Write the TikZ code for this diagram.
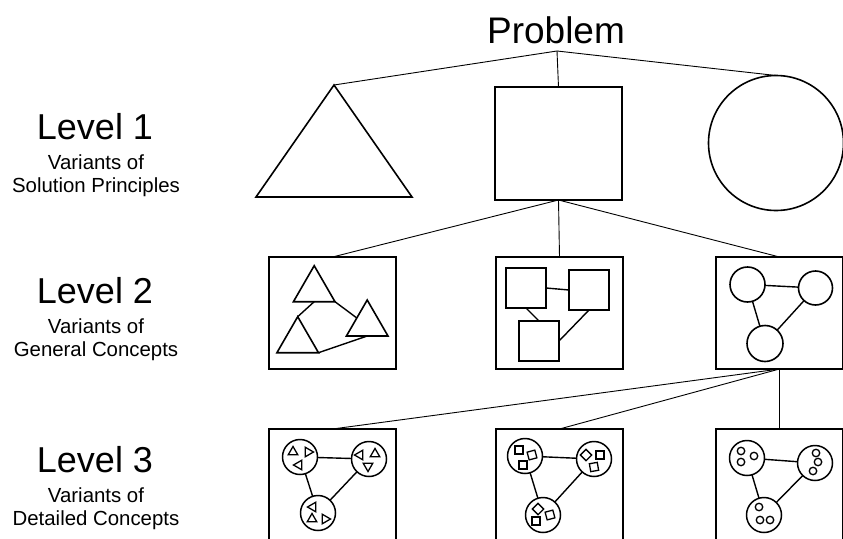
\documentclass[tikz,border=0pt]{standalone}
\usepackage{fontspec}
\setmainfont{Liberation Sans}
\usetikzlibrary{shapes.geometric,calc}
\begin{document}
\begin{tikzpicture}[x=1pt,y=-1pt,
  treeline/.style={line width=0.9pt},
  bigshape/.style={draw,line width=1.6pt,inner sep=0pt,outer sep=0pt},
  framebox/.style={draw,line width=1.8pt,rectangle,minimum width=127pt,minimum height=112pt,inner sep=0pt,outer sep=0pt},
  tri/.style={draw,line width=1.6pt,regular polygon,regular polygon sides=3,minimum size=48pt,inner sep=0pt,outer sep=0pt},
  sqr/.style={draw,line width=1.6pt,rectangle,minimum size=40pt,inner sep=0pt,outer sep=0pt},
  rnd/.style={draw,line width=1.6pt,circle,inner sep=0pt,outer sep=0pt},
  link/.style={line width=1.4pt},
  grp/.style={draw,line width=1.5pt,circle,minimum size=35pt,inner sep=0pt,outer sep=0pt},
  mtri/.style={draw,line width=1.3pt,regular polygon,regular polygon sides=3,minimum size=11pt,inner sep=0pt},
  msq/.style={draw,line width=1.3pt,rectangle,minimum size=8pt,inner sep=0pt},
  mdot/.style={draw,line width=1.3pt,circle,minimum size=7.5pt,inner sep=0pt},
  big/.style={font=\fontsize{36}{40}\selectfont,inner sep=0pt,anchor=base},
  small/.style={font=\fontsize{20.4}{24}\selectfont,inner sep=0pt,anchor=base},
]
\useasboundingbox (0,0) rectangle (843,538);
\clip (0,0) rectangle (843,538);

% level captions
\node[big] (lv1) at (95,139) {Level 1};
\node[small] (lv1a) at (96,169) {Variants of};
\node[small] (lv1b) at (96,192) {Solution Principles};
\node[big] (lv2) at (95,303) {Level 2};
\node[small] (lv2a) at (96,333) {Variants of};
\node[small] (lv2b) at (96,356) {General Concepts};
\node[big] (lv3) at (95,472) {Level 3};
\node[small] (lv3a) at (96,502) {Variants of};
\node[small] (lv3b) at (96,525) {Detailed Concepts};

% root
\node[big,font=\fontsize{37}{40}\selectfont] (prob) at (556,43) {Problem};
\coordinate (pj) at (557,51);

% level 1: solution principles
\coordinate (t1apex) at (334,85);
\coordinate (t1l) at (256,197);
\coordinate (t1r) at (412,197);
\draw[line width=1.6pt] (t1apex) -- (t1l) -- (t1r) -- cycle;
\node[bigshape,minimum width=127pt,minimum height=113pt] (sq1) at (558.5,143.5) {};
\node[bigshape,circle,minimum size=135pt] (circ1) at (776,143) {};

\draw[treeline] (pj) -- (t1apex);
\draw[treeline] (pj) -- (sq1.north);
\draw[treeline] (pj) -- (circ1.north);

% level 2: general concepts
\node[framebox] (b2a) at (332.5,313) {};
\node[framebox] (b2b) at (559.5,313) {};
\node[framebox] (b2c) at (779.5,313) {};
\draw[treeline] (sq1.south) -- (b2a.north);
\draw[treeline] (sq1.south) -- (b2b.north);
\draw[treeline] (sq1.south) -- (b2c.north);

% triangles
\node[tri] (ta) at (314.2,289.7) {};
\node[tri] (tb) at (367.2,324) {};
\node[tri] (tc) at (297.7,340.7) {};
\draw[link] (ta.side 2) -- (tc.corner 1);
\draw[link] (ta.corner 3) -- (tb.side 1);
\draw[link] (tc.corner 3) -- (tb.side 2);

% squares
\node[sqr] (sa) at (526,288) {};
\node[sqr] (sb) at (589,290) {};
\node[sqr] (sc) at (539,341) {};
\draw[link] (sa.east) -- (sb.west);
\draw[link] (sa.south) -- (sc.north);
\draw[link] (sb.south) -- (sc.east);

% circles
\node[rnd,minimum size=35pt] (ca) at (747.5,284.5) {};
\node[rnd,minimum size=34pt] (cb) at (815.5,288) {};
\node[rnd,minimum size=36pt] (cc) at (765,343.5) {};
\draw[link] (ca) -- (cb);
\draw[link] (ca) -- (cc);
\draw[link] (cb) -- (cc);

% level 3: detailed concepts
\node[framebox] (b3a) at (332.5,485) {};
\node[framebox] (b3b) at (559.5,485) {};
\node[framebox] (b3c) at (779.5,485) {};
\draw[treeline] (b2c.south) -- (b3a.north);
\draw[treeline] (b2c.south) -- (b3b.north);
\draw[treeline] (b2c.south) -- (b3c.north);

% groups of small triangles
\node[grp] (ga) at (300,457) {};
\node[grp] (gb) at (369,459) {};
\node[grp] (gc) at (318,513) {};
\draw[link] (ga) -- (gb);
\draw[link] (ga) -- (gc);
\draw[link] (gb) -- (gc);
\node[mtri] (ga1) at ($(ga)+(-7,-5)$) {};
\node[mtri,rotate=-90] (ga2) at ($(ga)+(8,-5)$) {};
\node[mtri,rotate=90] (ga3) at ($(ga)+(-1,8)$) {};
\node[mtri,rotate=90] (gb1) at ($(gb)+(-9,-4)$) {};
\node[mtri] (gb2) at ($(gb)+(6,-5)$) {};
\node[mtri,rotate=180] (gb3) at ($(gb)+(-1,7)$) {};
\node[mtri,rotate=90] (gc1) at ($(gc)+(-5,-6)$) {};
\node[mtri] (gc2) at ($(gc)+(-6,6)$) {};
\node[mtri,rotate=-90] (gc3) at ($(gc)+(7,6)$) {};

% groups of small squares
\node[grp] (ha) at (525,456) {};
\node[grp] (hb) at (594,459) {};
\node[grp] (hc) at (543,515) {};
\draw[link] (ha) -- (hb);
\draw[link] (ha) -- (hc);
\draw[link] (hb) -- (hc);
\node[msq] (ha1) at ($(ha)+(-6,-6)$) {};
\node[msq,rotate=15] (ha2) at ($(ha)+(7,-1)$) {};
\node[msq] (ha3) at ($(ha)+(-2,9)$) {};
\node[msq,rotate=45] (hb1) at ($(hb)+(-8,-4)$) {};
\node[msq] (hb2) at ($(hb)+(6,-4)$) {};
\node[msq,rotate=10] (hb3) at ($(hb)+(0,8)$) {};
\node[msq,rotate=45] (hc1) at ($(hc)+(-5,-6)$) {};
\node[msq,rotate=15] (hc2) at ($(hc)+(7,0)$) {};
\node[msq] (hc3) at ($(hc)+(-7,6)$) {};

% groups of small circles
\node[grp] (ka) at (747,458) {};
\node[grp] (kb) at (815,463) {};
\node[grp] (kc) at (764,515) {};
\draw[link] (ka) -- (kb);
\draw[link] (ka) -- (kc);
\draw[link] (kb) -- (kc);
\node[mdot] (ka1) at ($(ka)+(-6,-7)$) {};
\node[mdot] (ka2) at ($(ka)+(7,-2)$) {};
\node[mdot] (ka3) at ($(ka)+(-6,4)$) {};
\node[mdot] (kb1) at ($(kb)+(1,-10)$) {};
\node[mdot] (kb2) at ($(kb)+(3,-1)$) {};
\node[mdot] (kb3) at ($(kb)+(-2,8)$) {};
\node[mdot] (kc1) at ($(kc)+(-5,-8)$) {};
\node[mdot] (kc2) at ($(kc)+(-4,5)$) {};
\node[mdot] (kc3) at ($(kc)+(6,5)$) {};
\end{tikzpicture}
\end{document}
